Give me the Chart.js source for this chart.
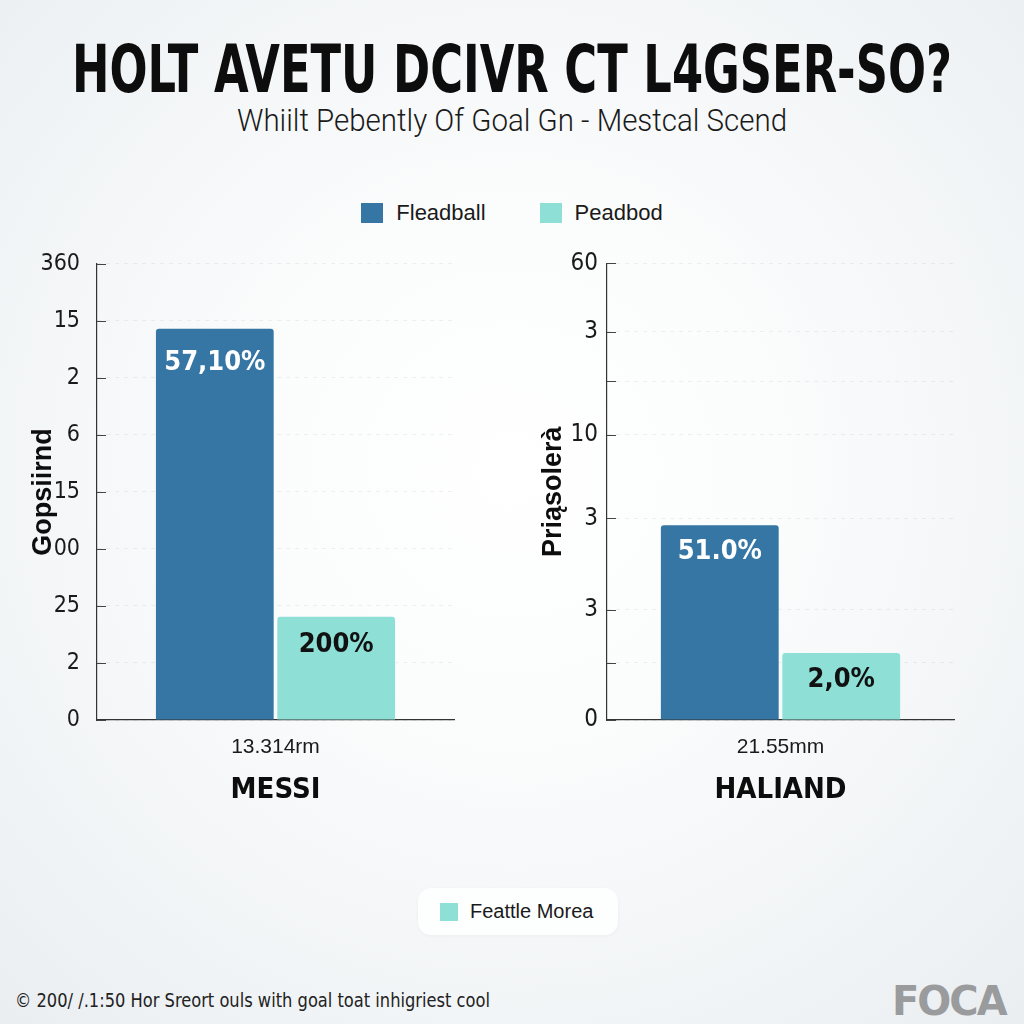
<!DOCTYPE html>
<html>
<head>
<meta charset="utf-8">
<script src="https://cdn.jsdelivr.net/npm/chart.js@4.4.0/dist/chart.umd.min.js"></script>
<style>
  html, body { margin: 0; padding: 0; }
  body {
    width: 1024px; height: 1024px; position: relative; overflow: hidden;
    background: radial-gradient(circle at 50% 46%, #ffffff 0%, #fbfcfc 35%, #f1f4f6 75%, #eaeef1 100%);
    font-family: 'Liberation Sans', Arial, sans-serif; color: #111;
  }
  .fit { position: absolute; left: 512px; white-space: nowrap; transform-origin: center center; }
  #titleText { top: 34px; height: 72px; line-height: 72px; font-family: 'DejaVu Sans', sans-serif; font-stretch: condensed; font-weight: 700; font-size: 66px; color: #0d0d0d; }
  #subText { top: 100px; height: 40px; line-height: 40px; font-family: Roboto, 'Liberation Sans', sans-serif; font-weight: 300; font-size: 32px; color: #1a1a1a; }
  #legendTop { position: absolute; left: 0; width: 1024px; top: 200px; height: 26px; display: flex; justify-content: center; gap: 54px; font-size: 22px; color: #1a1a1a; }
  .item { display: flex; align-items: center; }
  .sw { width: 22px; height: 20px; margin-right: 13px; }
  canvas { position: absolute; }
  #legendBottom {
    position: absolute; left: 418px; top: 888px; width: 200px; height: 47px; box-sizing: border-box;
    background: #fdfefe; border-radius: 13px; box-shadow: 0 1px 4px rgba(0,0,0,0.04);
    display: flex; align-items: center; padding-left: 22px; font-size: 20px; color: #1a1a1a;
  }
  #legendBottom .sw { width: 18px; height: 18px; margin-right: 12px; }
  #footer { position: absolute; left: 15px; top: 988px; height: 24px; line-height: 24px; font-family: 'DejaVu Sans', sans-serif; font-stretch: condensed; font-size: 19px; color: #222; transform-origin: left center; white-space: nowrap; }
  #logo { position: absolute; left: 892px; top: 978px; font-family: 'DejaVu Sans', sans-serif; font-weight: 700; font-size: 40px; color: #999b9d; letter-spacing: -2px; }
</style>
</head>
<body>
<span class="fit" id="titleText">HOLT AVETU DCIVR CT L4GSER-SO?</span>
<span class="fit" id="subText">Whiilt Pebently Of Goal Gn - Mestcal Scend</span>
<div id="legendTop"></div>

<canvas id="leftChart" width="480" height="579" style="left:0px; top:233px;"></canvas>
<canvas id="rightChart" width="480" height="572" style="left:500px; top:240px;"></canvas>

<div id="legendBottom"><div class="sw" style="background:#8ee0d6"></div><span>Feattle Morea</span></div>
<div id="footer">© 200/ /.1:50 Hor Sreort ouls with goal toat inhigriest cool</div>
<div id="logo">FOCA</div>

<script>
// ---------- DATA ----------
const seriesNames = ['Fleadball', 'Peadbod'];
const seriesColors = ['#3576a4', '#8ee0d6'];
const labelColors = ['#ffffff', '#111111'];

const messiCategory = ['13.314rm'];
const messiValues = [6.86, 1.81];
const messiBarLabels = ['57,10%', '200%'];
const messiTickLabels = ['0', '2', '25', '00', '15', '6', '2', '15', '360'];
const messiAxisTitle = 'Gopsiirnd';

const halandCategory = ['21.55mm'];
const halandValues = [25.6, 8.8];
const halandBarLabels = ['51.0%', '2,0%'];
const halandTickValues = [0, 7.5, 14.5, 26.5, 37.5, 44.5, 51, 60];
const halandTickLabels = ['0', '', '3', '3', '10', '', '3', '60'];
const halandAxisTitle = 'Priąsolerà';

const playerNames = ['MESSI', 'HALIAND'];

// ---------- TEXT FITTING ----------
function fitWidth(el, target, centered) {
    const w = el.getBoundingClientRect().width;
    const s = target / w;
    el.style.transform = centered ? `translateX(-50%) scaleX(${s})` : `scaleX(${s})`;
}
fitWidth(document.getElementById('titleText'), 880, true);
fitWidth(document.getElementById('subText'), 550, true);
fitWidth(document.getElementById('footer'), 475, false);

const legendTop = document.getElementById('legendTop');
seriesNames.forEach((name, i) => {
    const item = document.createElement('div');
    item.className = 'item';
    item.innerHTML = `<div class="sw" style="background:${seriesColors[i]}"></div><span>${name}</span>`;
    legendTop.appendChild(item);
});

// ---------- CHARTS ----------
// condensed faces are reached through the font shorthand (weight slot)
const COND = "'DejaVu Sans', sans-serif";
Chart.defaults.font.family = COND;
Chart.defaults.color = '#1a1a1a';

const barLabelPlugin = {
    id: 'barLabels',
    afterDatasetsDraw(chart, args, opts) {
        const ctx = chart.ctx;
        ctx.save();
        ctx.font = `condensed bold 27px ${COND}`;
        ctx.textAlign = 'center';
        ctx.textBaseline = 'middle';
        chart.data.datasets.forEach((ds, i) => {
            const bar = chart.getDatasetMeta(i).data[0];
            ctx.fillStyle = labelColors[i];
            ctx.fillText(opts.labels[i], bar.x, bar.y + opts.offsets[i]);
        });
        ctx.restore();
    }
};

const innerTicksPlugin = {
    id: 'innerTicks',
    afterDraw(chart) {
        const y = chart.scales.y;
        const ctx = chart.ctx;
        ctx.save();
        ctx.strokeStyle = '#444';
        ctx.lineWidth = 1;
        y.ticks.forEach((t, i) => {
            const py = Math.round(y.getPixelForTick(i)) + 0.5;
            ctx.beginPath();
            ctx.moveTo(chart.chartArea.left, py);
            ctx.lineTo(chart.chartArea.left + 9, py);
            ctx.stroke();
        });
        ctx.restore();
    }
};

function makeChart(id, category, values, barLabels, offsets, yScale, axisTitle, player, axisWidth, titlePad, catPct) {
    return new Chart(document.getElementById(id), {
        type: 'bar',
        data: {
            labels: category,
            datasets: seriesNames.map((name, i) => ({
                label: name,
                data: [values[i]],
                backgroundColor: seriesColors[i],
                borderRadius: { topLeft: 3, topRight: 3 },
                borderSkipped: 'bottom',
                barPercentage: 0.97,
                categoryPercentage: catPct
            }))
        },
        options: {
            responsive: false,
            animation: false,
            layout: { padding: { top: 9, right: 26, bottom: 0, left: 0 } },
            plugins: {
                legend: { display: false },
                tooltip: { enabled: false },
                barLabels: { labels: barLabels, offsets: offsets }
            },
            scales: {
                x: {
                    grid: { display: false },
                    border: { color: '#333', width: 1.2 },
                    ticks: { padding: 7, color: '#1a1a1a', font: { family: "'Liberation Sans', Arial, sans-serif", size: 21 } },
                    title: {
                        display: true, text: player, color: '#0d0d0d',
                        font: { family: COND, size: 29, weight: 'condensed bold' },
                        padding: { top: 6, bottom: 4 }
                    }
                },
                y: Object.assign({
                    afterFit(scale) { scale.width = axisWidth; },
                    grid: { color: 'rgba(0,0,0,0.06)', drawTicks: false },
                    border: { color: '#333', width: 1.2, dash: [4, 5] },
                    title: {
                        display: true, text: axisTitle, color: '#0d0d0d',
                        font: { family: "'Liberation Sans', Arial, sans-serif", size: 27, weight: 'bold' },
                        padding: { top: titlePad, bottom: 0 }
                    }
                }, yScale)
            }
        },
        plugins: [barLabelPlugin, innerTicksPlugin]
    });
}

makeChart('leftChart', messiCategory, messiValues, messiBarLabels, [34, 28], {
    min: 0, max: messiTickLabels.length - 1,
    ticks: { stepSize: 1, padding: 17, color: '#1a1a1a', font: { weight: 'condensed', size: 23 },
             callback: (v) => messiTickLabels[v] }
}, messiAxisTitle, playerNames[0], 97, 27, 0.68);

makeChart('rightChart', halandCategory, halandValues, halandBarLabels, [27, 27], {
    min: 0, max: 60,
    afterBuildTicks(scale) { scale.ticks = halandTickValues.map(v => ({ value: v })); },
    ticks: { padding: 9, color: '#1a1a1a', font: { weight: 'condensed', size: 24 },
             callback: (v) => halandTickLabels[halandTickValues.indexOf(v)] }
}, halandAxisTitle, playerNames[1], 107, 37, 0.70);
</script>
</body>
</html>
